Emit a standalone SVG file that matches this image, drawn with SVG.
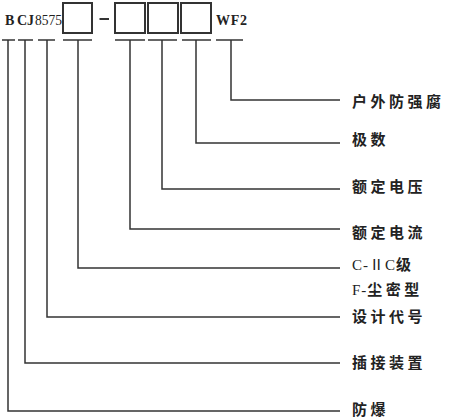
<svg xmlns="http://www.w3.org/2000/svg" width="450" height="420" viewBox="0 0 450 420">
<style>
.ln{fill:none;stroke:#333;stroke-width:1.5}
.bx{fill:#fff;stroke:#333;stroke-width:2}
.code{font-family:"Liberation Serif",serif;font-size:14px;font-weight:bold;fill:#222}
.lab{font-family:"Noto Sans CJK SC","Noto Sans CJK JP",sans-serif;font-size:15px;font-weight:bold;fill:#222;letter-spacing:3.5px}
.lat{font-family:"Liberation Serif","Noto Sans CJK SC",serif;font-weight:normal;letter-spacing:1px}
</style>
<rect width="450" height="420" fill="#fff"/>
<g id="code">
<g id="code-B"><text class="code" x="5" y="25">B</text><path class="ln" d="M2,40H15"/></g>
<g id="code-C"><text class="code" x="17" y="25">C</text><path class="ln" d="M18,40H33"/></g>
<g id="code-J8575"><text class="code" x="27" y="25">J</text><text class="code" x="35" y="25" textLength="27" lengthAdjust="spacingAndGlyphs" style="font-weight:normal;font-size:15px">8575</text><path class="ln" d="M38,40H55"/></g>
<g id="box1"><rect class="bx" x="63" y="3" width="29" height="30"/><path class="ln" d="M63,40H92"/></g>
<g id="dash"><path d="M99.5,19H109" stroke="#333" stroke-width="2"/></g>
<g id="box2"><rect class="bx" x="115" y="3" width="30" height="30"/><path class="ln" d="M115,40H145"/></g>
<g id="box3"><rect class="bx" x="148" y="3" width="30" height="30"/><path class="ln" d="M148,40H177"/></g>
<g id="box4"><rect class="bx" x="181" y="3" width="30" height="30"/><path class="ln" d="M182,40H211"/></g>
<g id="code-WF2"><text class="code" x="216" y="25" textLength="31" lengthAdjust="spacing">WF2</text><path class="ln" d="M216,40H243"/></g>
</g>
<g id="connectors">
<path class="ln" d="M8,40V411H340"/>
<path class="ln" d="M25,40V363H340"/>
<path class="ln" d="M47,40V317H340"/>
<path class="ln" d="M78,40V268H340"/>
<path class="ln" d="M130,40V229H340"/>
<path class="ln" d="M162,40V189H340"/>
<path class="ln" d="M196,40V143H340"/>
<path class="ln" d="M231,40V100H340"/>
</g>
<g id="label-outdoor"><text class="lab" x="352" y="107">户外防强腐</text></g>
<g id="label-poles"><text class="lab" x="352" y="145">极数</text></g>
<g id="label-voltage"><text class="lab" x="352" y="192">额定电压</text></g>
<g id="label-current"><text class="lab" x="352" y="238">额定电流</text></g>
<g id="label-class"><text class="lab" x="352" y="270"><tspan class="lat">C-ⅡC</tspan>级</text><text class="lab" x="352" y="295"><tspan class="lat">F-</tspan>尘密型</text></g>
<g id="label-design"><text class="lab" x="352" y="322">设计代号</text></g>
<g id="label-plug"><text class="lab" x="352" y="368">插接装置</text></g>
<g id="label-ex"><text class="lab" x="352" y="415">防爆</text></g>
</svg>
